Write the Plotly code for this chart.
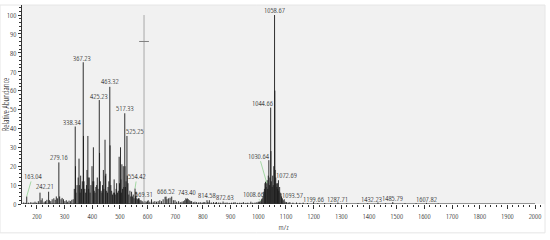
import plotly.graph_objects as go

# ---- data -------------------------------------------------------------
mz = [152, 158, 163.04, 170, 178, 186, 193, 199, 205, 211, 215, 219, 226, 231, 236, 242.21, 245, 250, 255, 261,
      266, 270, 274, 279.16, 282, 287, 291, 296, 301, 306, 311, 316, 321, 326, 331,
      335, 338.34, 339.3, 341, 345, 349, 352, 353.3, 356, 358, 361, 364, 367.23, 368.2, 370, 373, 376, 379, 381,
      384, 385.3, 387, 389, 392, 395, 399, 402, 404, 405.3, 407, 410, 413, 416, 418, 421, 425.23, 426.2, 429,
      432, 435, 437, 440, 442, 446, 447.3, 449, 452, 455, 457, 460, 463.32, 464.3, 467, 470, 473, 476, 479,
      480.3, 483, 486, 488, 491, 494, 497, 498.3, 502, 503.3, 505, 507, 509, 512, 514, 517.33, 518.3, 520, 522,
      525.25, 526.3, 529, 532, 536, 539, 542, 545, 548, 551, 554.42, 556, 558, 561, 564, 567, 569.31, 572, 576,
      580, 584, 590, 595, 600, 602, 608, 614, 620, 626, 632, 638, 644, 650, 656, 663, 666.52, 670, 675, 681,
      687, 693, 699, 705, 712, 718, 724, 729, 734, 738, 741, 743.40, 747, 752, 756, 759, 765, 771, 777, 784,
      790, 797, 803, 807, 814.58, 818, 823, 830, 838, 845, 849, 857, 864, 872.63, 880, 887, 895, 903, 910, 916,
      925, 933, 940, 946, 955, 962, 973, 980, 988, 995, 1000, 1004, 1008.66, 1012, 1014, 1017, 1020, 1022, 1024,
      1026, 1028, 1030.64, 1032, 1034, 1036, 1038, 1040, 1042, 1044.66, 1045.7, 1047, 1050, 1052, 1054, 1056,
      1058.67, 1059.67, 1061, 1063, 1065, 1067, 1069, 1070, 1072.69, 1074, 1077, 1079, 1082, 1084, 1087, 1090,
      1093.57, 1097, 1102, 1108, 1114, 1125, 1138, 1150, 1162, 1178, 1199.66, 1215, 1240, 1262, 1287.71, 1320,
      1360, 1395, 1432.23, 1460, 1485.79, 1530, 1570, 1607.82, 1650]
abundance = [0.8, 0.6, 4, 0.7, 1.0, 0.8, 1.2, 0.7, 1.5, 6, 2, 3, 1.2, 1.5, 2.2, 6.5, 2, 1.5, 2.5, 3,
             2.2, 4, 3, 22, 4, 2.5, 3.2, 2.5, 1.5, 2, 1.2, 1.8, 1.5, 2.2, 2.5,
             8, 41, 20, 6, 10, 14, 24, 10, 6, 15, 8, 12, 75, 36, 12, 8, 6, 10, 18,
             36, 14, 8, 14, 6, 10, 20, 12, 30, 12, 7, 6, 9, 10, 14, 8, 55, 27, 12,
             7, 6, 10, 18, 8, 34, 15, 16, 7, 6, 9, 12, 62, 31, 10, 7, 5, 6, 13,
             6, 5, 8, 11, 6, 7, 25, 11, 30, 13, 6, 21, 8, 20, 9, 48, 20, 9, 12,
             36, 15, 11, 5, 7, 4, 6.5, 4, 5, 3, 8.2, 4, 6.5, 3, 2.5, 3, 3, 2, 2,
             1.5, 1.2, 1.5, 1.2, 1.5, 2, 1.2, 2.5, 1.2, 1.5, 1.2, 1.5, 2, 1.5, 2.5, 3.8, 3.9, 2.5, 3, 3.3,
             3.9, 2, 2, 1.2, 1.5, 1, 1.2, 1.5, 2, 3, 2.5, 3, 2.5, 2, 1.5, 1.5, 1, 1.2, 1, 0.8,
             1, 0.8, 1, 1, 2, 1, 2, 0.8, 1, 0.7, 1, 0.8, 0.7, 1.3, 0.7, 0.8, 0.6, 0.7, 0.8, 1,
             0.6, 0.7, 0.6, 1, 0.6, 0.7, 1.2, 0.7, 0.8, 1, 1.2, 1.3, 1.5, 2.5, 3, 4, 6.5, 8, 11,
             11.8, 9, 11, 12.6, 8, 15, 23.2, 10, 14, 51, 28, 12, 9, 15, 10, 20,
             100, 60, 18, 14, 10.9, 9, 11, 8, 12.6, 7, 9, 6, 5.6, 4, 3, 2,
             2.5, 1.2, 1, 0.8, 1, 0.7, 0.8, 0.6, 0.7, 0.5, 1, 0.5, 0.5, 0.5, 0.8, 0.4,
             0.4, 0.4, 0.8, 0.4, 1, 0.4, 0.4, 0.6, 0.3]

label_mz = [163.04, 242.21, 279.16, 338.34, 367.23, 425.23, 463.32, 517.33, 525.25, 554.42, 569.31,
            666.52, 743.40, 814.58, 872.63, 1008.66, 1030.64, 1044.66, 1058.67, 1072.69, 1093.57,
            1199.66, 1287.71, 1432.23, 1485.79, 1607.82]

lock_mz = [587, 587]
lock_y = [0, 100]
lock_mark_y = [86]

x_ticks = list(range(200, 2001, 100))
y_ticks = list(range(0, 101, 10))

# ---- label placement (pixel offsets, leader line flag) ----------------
label_style = {
    163.04: (6, -21, True), 242.21: (-4, -6, False), 279.16: (0, -6, False),
    338.34: (-3, -5, False), 367.23: (-1, -5, False), 425.23: (0, -5, False),
    463.32: (0, -6, False), 517.33: (0, -6, False), 525.25: (8, -5, True),
    554.42: (2, -13, True), 569.31: (5, -5, True), 666.52: (0, -6, False),
    743.40: (0, -7, False), 814.58: (0, -6, False), 872.63: (2, -5, False),
    1008.66: (-7, -8, True), 1030.64: (-8, -28, True), 1044.66: (-8, -5, True),
    1058.67: (0, -6, False), 1072.69: (8, -6, True), 1093.57: (8, -5, True),
    1199.66: (0, -4, False), 1287.71: (0, -4, False), 1432.23: (-6, -4, True),
    1485.79: (0, -5, False), 1607.82: (0, -4, False),
}

FONT = "Open Sans Condensed Light, DejaVu Sans Condensed, sans-serif"
TXT = "#000000"
LEADER = "#8fd08f"

# stick spectrum: one vertical segment per peak
xs, ys = [], []
for m, a in zip(mz, abundance):
    xs += [m, m, None]
    ys += [0, a, None]

fig = go.Figure()
fig.add_trace(go.Scatter(x=xs, y=ys, mode="lines", line=dict(color="#1a1a1a", width=0.9),
                         showlegend=False, hoverinfo="skip"))
fig.add_trace(go.Scatter(x=lock_mz, y=lock_y, mode="lines", line=dict(color="#a8a8a8", width=1),
                         showlegend=False, hoverinfo="skip"))
fig.add_trace(go.Scatter(x=lock_mz[:1], y=lock_mark_y, mode="markers",
                         marker=dict(symbol="line-ew", size=7, line=dict(color="#808080", width=1)),
                         showlegend=False, hoverinfo="skip"))

lookup = dict(zip(mz, abundance))
for m in label_mz:
    ax, ay, leader = label_style[m]
    fig.add_annotation(x=m, y=lookup[m], text=f"{m:.2f}", showarrow=True, arrowhead=0,
                       arrowwidth=0.8, arrowcolor=LEADER if leader else "rgba(0,0,0,0)",
                       ax=ax, ay=ay, standoff=0, startstandoff=0, borderpad=0,
                       font=dict(family=FONT, size=8, color=TXT))

# x axis line from left edge to 2000 only
fig.add_shape(type="line", xref="x", yref="y", x0=146, x1=2000, y0=0, y1=0,
              line=dict(color="#333333", width=1))
# faint outer border
fig.add_shape(type="rect", xref="paper", yref="paper", x0=-0.042, x1=1.0, y0=-0.145, y1=1.0,
              line=dict(color="#e6e6e6", width=1), layer="below")

fig.update_layout(
    width=550, height=240,
    margin=dict(l=22, r=5, t=5, b=36),
    paper_bgcolor="white", plot_bgcolor="#f1f1f1",
    font=dict(family=FONT, size=8, color=TXT),
    xaxis=dict(range=[146, 2036], tickvals=x_ticks, ticks="outside", ticklen=4, tickcolor="#333333",
               showline=False, showgrid=False, zeroline=False, automargin=False,
               minor=dict(dtick=20, tick0=0, ticks="outside", ticklen=2, tickcolor="#333333"),
               title=dict(text="m/z", font=dict(family=FONT, size=8, color=TXT), standoff=1),
               tickfont=dict(family=FONT, size=8, color=TXT)),
    yaxis=dict(range=[0, 105.3], tickvals=y_ticks, ticks="outside", ticklen=3, tickcolor="#333333",
               showline=True, linecolor="#333333", linewidth=1, showgrid=False, zeroline=False,
               automargin=False,
               minor=dict(dtick=2, tick0=0, ticks="outside", ticklen=2, tickcolor="#333333"),
               title=dict(text="Relative Abundance", font=dict(family=FONT, size=8.5, color=TXT), standoff=3),
               tickfont=dict(family=FONT, size=8, color=TXT)),
)

fig.write_html("out.html", config={"displayModeBar": False},
               post_script="document.body.style.margin='0px';")
